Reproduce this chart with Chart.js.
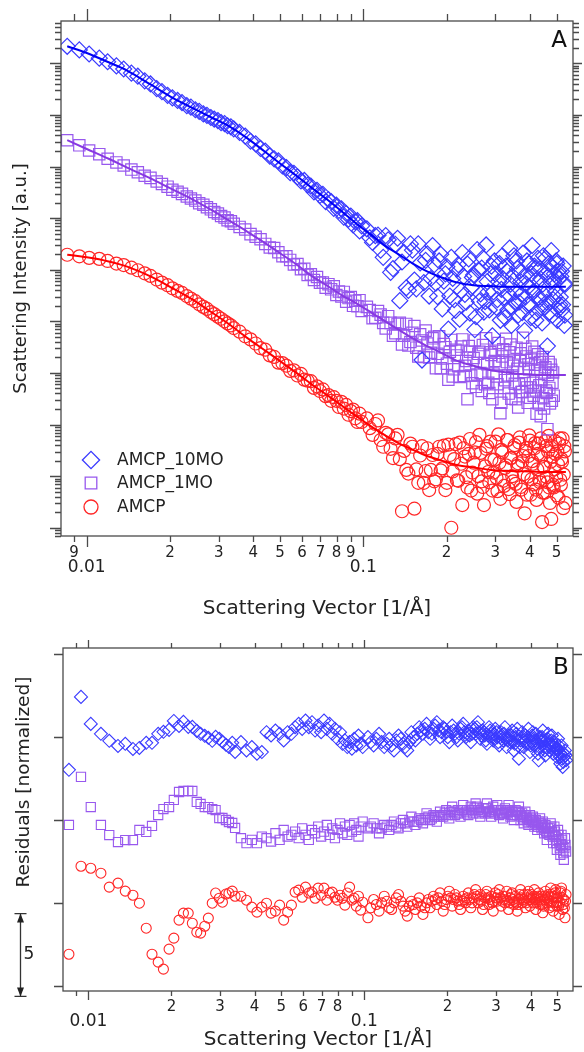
<!DOCTYPE html>
<html>
<head>
<meta charset="utf-8">
<title>AMCP SAXS</title>
<script src="https://cdn.jsdelivr.net/npm/chart.js@4/dist/chart.umd.min.js"></script>
<style>
  html, body { margin: 0; padding: 0; background: #fff; }
  #wrap { position: relative; width: 584px; height: 1052px; }
  #wrap canvas { position: absolute; left: 0; }
  #chartA { top: 0; }
  #chartB { top: 622px; }
</style>
</head>
<body>
<div id="wrap">
  <canvas id="chartA" width="584" height="622"></canvas>
  <canvas id="chartB" width="584" height="430"></canvas>
</div>
<script>
// scattering vector q [1/A], same grid for all series (panel A and B)
var q = [
  0.0085, 0.0094, 0.0102, 0.0111, 0.0119, 0.0128, 0.0136, 0.0145, 0.0153, 0.0162,
  0.0170, 0.0179, 0.0187, 0.0196, 0.0204, 0.0213, 0.0221, 0.0230, 0.0238, 0.0247,
  0.0255, 0.0264, 0.0272, 0.0281, 0.0289, 0.0298, 0.0306, 0.0315, 0.0323, 0.0332,
  0.0340,
  0.0357, 0.0374, 0.0391, 0.0408, 0.0425, 0.0442, 0.0459, 0.0476, 0.0493, 0.0510,
  0.0527, 0.0544, 0.0561, 0.0578, 0.0595, 0.0612, 0.0629, 0.0646, 0.0663, 0.0680,
  0.0697, 0.0714, 0.0731, 0.0748, 0.0765, 0.0782, 0.0799, 0.0816, 0.0833, 0.0850,
  0.0867, 0.0884, 0.0901, 0.0918, 0.0935, 0.0952, 0.0969, 0.0986,
  0.1030, 0.1055, 0.1080, 0.1105, 0.1130, 0.1155, 0.1180, 0.1205, 0.1230, 0.1255,
  0.1280, 0.1305, 0.1330, 0.1355, 0.1380, 0.1405, 0.1430, 0.1455, 0.1480, 0.1505,
  0.1530, 0.1555, 0.1580, 0.1605, 0.1630, 0.1655, 0.1680, 0.1705, 0.1730, 0.1755,
  0.1780, 0.1805, 0.1830, 0.1855, 0.1880, 0.1905, 0.1930, 0.1955, 0.1980, 0.2005,
  0.2030, 0.2055, 0.2080, 0.2105, 0.2130, 0.2155, 0.2180, 0.2205, 0.2230, 0.2255,
  0.2280, 0.2305, 0.2330, 0.2355, 0.2380, 0.2405, 0.2430, 0.2455, 0.2480, 0.2505,
  0.2530, 0.2555, 0.2580, 0.2605, 0.2630, 0.2655, 0.2680, 0.2705, 0.2730, 0.2755,
  0.2780, 0.2805, 0.2830, 0.2855, 0.2880, 0.2905, 0.2930, 0.2955, 0.2980, 0.3005,
  0.3030, 0.3055, 0.3080, 0.3105, 0.3130, 0.3155, 0.3180, 0.3205, 0.3230, 0.3255,
  0.3280, 0.3305, 0.3330, 0.3355, 0.3380, 0.3405, 0.3430, 0.3455, 0.3480, 0.3505,
  0.3530, 0.3555, 0.3580, 0.3605, 0.3630, 0.3655, 0.3680, 0.3705, 0.3730, 0.3755,
  0.3780, 0.3805, 0.3830, 0.3855, 0.3880, 0.3905, 0.3930, 0.3955, 0.3980, 0.4005,
  0.4030, 0.4055, 0.4080, 0.4105, 0.4130, 0.4155, 0.4180, 0.4205, 0.4230, 0.4255,
  0.4280, 0.4305, 0.4330, 0.4355, 0.4380, 0.4405, 0.4430, 0.4455, 0.4480, 0.4505,
  0.4530, 0.4555, 0.4580, 0.4605, 0.4630, 0.4655, 0.4680, 0.4705, 0.4730, 0.4755,
  0.4780, 0.4805, 0.4830, 0.4855, 0.4880, 0.4905, 0.4930, 0.4955, 0.4980, 0.5005,
  0.5030, 0.5055, 0.5080, 0.5105, 0.5130, 0.5155, 0.5180, 0.5205, 0.5230, 0.5255,
  0.5280, 0.5305, 0.5330, 0.5355, 0.5380
];

// panel A: log10 of scattering intensity [a.u.]
var logI10mo = [
  9.33, 9.26, 9.18, 9.10, 9.03, 8.95, 8.89, 8.81, 8.75, 8.66,
  8.60, 8.51, 8.45, 8.38, 8.33, 8.28, 8.24, 8.18, 8.15, 8.10,
  8.07, 8.02, 7.99, 7.95, 7.92, 7.89, 7.85, 7.83, 7.79, 7.77,
  7.73,
  7.66, 7.59, 7.49, 7.44, 7.35, 7.30, 7.20, 7.15, 7.11, 7.01,
  6.98, 6.88, 6.87, 6.80, 6.72, 6.73, 6.64, 6.62, 6.51, 6.54,
  6.44, 6.46, 6.32, 6.36, 6.32, 6.19, 6.25, 6.15, 6.18, 6.02,
  6.09, 5.98, 6.04, 5.87, 5.93, 5.95, 5.75, 5.85,
  5.79, 5.62, 5.53, 5.66, 5.67, 5.38, 5.24, 5.66, 5.58, 4.95,
  5.02, 5.49, 5.61, 4.40, 5.15, 5.33, 4.65, 4.60, 5.50, 5.38,
  4.80, 4.63, 5.50, 5.13, 3.25, 4.75, 5.18, 5.31, 4.49, 4.83,
  5.47, 5.10, 4.74, 4.48, 5.17, 5.30, 4.24, 4.78, 4.92, 5.06,
  3.85, 4.49, 5.24, 4.83, 4.42, 4.21, 5.01, 5.10, 4.04, 4.59,
  5.33, 4.87, 4.52, 4.37, 5.11, 5.21, 4.16, 4.65, 4.85, 4.90,
  3.84, 4.09, 5.39, 4.99, 4.39, 4.53, 5.03, 5.23, 4.18, 4.38,
  5.48, 4.77, 4.57, 4.22, 4.92, 5.07, 3.72, 4.57, 5.17, 4.92,
  4.27, 4.42, 4.77, 5.12, 4.02, 4.62, 5.27, 4.82, 4.47, 4.07,
  5.07, 4.97, 4.22, 4.52, 5.42, 4.72, 3.92, 4.27, 4.87, 5.27,
  4.37, 4.57, 5.17, 5.02, 4.12, 4.37, 4.97, 4.77, 4.52, 4.17,
  5.32, 4.87, 3.82, 4.47, 4.72, 5.17, 4.32, 4.67, 5.12, 4.32,
  4.07, 4.92, 5.47, 4.57, 4.57, 5.07, 5.02, 4.02, 4.17, 4.82,
  5.22, 4.47, 4.42, 5.02, 4.82, 4.27, 3.97, 4.72, 5.27, 4.52,
  4.27, 5.22, 4.92, 4.37, 3.52, 4.87, 5.12, 4.17, 4.37, 4.77,
  5.37, 5.07, 4.12, 4.42, 4.77, 4.92, 4.47, 4.57, 5.17, 5.12,
  4.02, 4.22, 4.97, 4.82, 4.32, 4.47, 4.87, 4.97, 4.22, 4.32,
  5.07, 4.72, 3.92, 4.12, 4.72
];
var logI1mo = [
  7.51, 7.41, 7.31, 7.24, 7.15, 7.08, 7.02, 6.94, 6.89, 6.82,
  6.78, 6.71, 6.66, 6.61, 6.55, 6.51, 6.47, 6.42, 6.38, 6.34,
  6.29, 6.26, 6.21, 6.17, 6.12, 6.09, 6.04, 6.01, 5.96, 5.94,
  5.89,
  5.83, 5.78, 5.69, 5.64, 5.59, 5.50, 5.43, 5.42, 5.34, 5.26,
  5.26, 5.19, 5.10, 5.11, 5.01, 5.02, 4.90, 4.91, 4.80, 4.86,
  4.75, 4.75, 4.65, 4.72, 4.62, 4.68, 4.51, 4.58, 4.48, 4.57,
  4.38, 4.45, 4.47, 4.30, 4.40, 4.29, 4.41, 4.20,
  4.28, 4.22, 4.06, 4.07, 4.20, 4.13, 3.97, 3.86, 4.10, 3.97,
  3.72, 3.77, 3.95, 3.97, 3.55, 3.72, 3.95, 3.53, 3.60, 3.78,
  3.91, 3.49, 3.32, 3.75, 3.63, 3.31, 3.82, 3.57, 3.30, 3.39,
  3.67, 3.70, 3.09, 3.37, 3.71, 3.09, 3.28, 3.56, 3.50, 3.18,
  2.87, 3.41, 3.64, 2.93, 3.07, 3.45, 3.34, 3.13, 2.92, 3.51,
  3.65, 2.94, 3.14, 3.23, 2.49, 3.52, 3.41, 2.95, 2.80, 3.29,
  3.63, 2.73, 2.97, 3.37, 3.41, 3.00, 2.65, 3.54, 3.19, 2.78,
  3.67, 3.17, 2.81, 2.61, 3.40, 3.35, 2.49, 2.99, 3.23, 3.43,
  2.93, 2.78, 3.58, 3.17, 2.22, 2.42, 3.32, 3.46, 2.71, 2.86,
  3.66, 3.21, 2.95, 2.60, 3.40, 3.55, 2.50, 2.95, 3.14, 3.24,
  2.79, 2.49, 3.49, 3.08, 2.33, 2.78, 3.23, 3.38, 2.63, 2.63,
  3.68, 3.02, 2.87, 3.47, 3.32, 2.72, 2.42, 3.17, 3.07, 2.52,
  2.72, 3.26, 3.51, 2.81, 2.56, 3.41, 3.16, 2.66, 2.21, 3.06,
  3.36, 2.41, 2.76, 3.21, 2.16, 2.86, 3.26, 3.31, 2.51, 2.31,
  3.01, 3.11, 2.66, 2.61, 1.91, 2.96, 3.21, 2.71, 2.41, 3.16,
  3.06, 2.46, 2.81, 3.01, 2.56, null, null, null, null, null,
  null, null, null, null, null, null, null, null, null, null,
  null, null, null, null, null
];
var logIamcp = [
  5.29, 5.26, 5.23, 5.21, 5.17, 5.12, 5.09, 5.04, 4.99, 4.93,
  4.88, 4.81, 4.75, 4.70, 4.64, 4.59, 4.55, 4.49, 4.44, 4.39,
  4.33, 4.28, 4.24, 4.18, 4.14, 4.09, 4.05, 4.00, 3.96, 3.92,
  3.87,
  3.80, 3.71, 3.65, 3.57, 3.48, 3.45, 3.34, 3.31, 3.20, 3.19,
  3.14, 3.04, 3.05, 2.95, 2.98, 2.87, 2.85, 2.84, 2.71, 2.74,
  2.65, 2.68, 2.55, 2.57, 2.46, 2.53, 2.46, 2.34, 2.44, 2.31,
  2.38, 2.19, 2.26, 2.29, 2.12, 2.05, 2.21, 2.05,
  2.12, 1.93, 1.80, 2.01, 2.08, 1.70, 1.57, 1.84, 1.81, 1.53,
  1.35, 1.73, 1.80, 1.33, 0.32, 1.49, 1.12, 1.05, 1.63, 1.57,
  0.37, 1.13, 0.87, 1.40, 1.58, 0.87, 1.10, 1.54, 0.73, 1.12,
  1.41, 0.90, 0.94, 1.43, 1.57, 1.11, 1.15, 1.59, 0.73, 0.87,
  1.61, 1.41, 0.00, 1.09, 1.33, 1.62, 0.92, 0.91, 1.65, 1.24,
  0.44, 1.54, 1.38, 0.98, 0.78, 1.43, 1.72, 0.72, 1.07, 1.26,
  1.46, 1.66, 0.66, 1.00, 1.80, 1.45, 0.90, 0.79, 0.44, 1.19,
  1.53, 1.58, 1.08, 0.88, 1.67, 1.32, 0.72, 1.07, 1.32, 1.67,
  0.97, 0.71, 1.81, 1.26, 0.56, 1.51, 1.46, 0.91, 0.81, 1.16,
  1.21, 1.70, 1.70, 0.75, 0.65, 1.35, 1.35, 1.00, 0.90, 1.55,
  1.60, 0.85, 0.50, 1.20, 1.25, 1.65, 1.75, 0.79, 0.74, 1.29,
  1.39, 1.04, 0.28, 1.49, 1.54, 0.64, 0.99, 1.39, 1.79, 1.69,
  0.64, 0.94, 1.29, 1.24, 0.84, 1.54, 1.64, 0.74, 0.54, 1.13,
  1.43, 1.63, 0.93, 0.88, 1.73, 1.38, 0.11, 0.68, 1.18, 1.18,
  0.68, 1.68, 1.58, 0.98, 0.88, 1.48, 1.78, 0.78, 0.48, 1.28,
  0.17, 1.58, 1.38, 0.83, 0.78, 1.13, 1.68, 1.43, 0.98, 0.63,
  1.48, 1.23, 0.58, 1.63, 1.73, 0.93, 0.83, 1.33, 1.28, 1.73,
  0.38, 1.03, 1.58, 1.48, 0.48
];

// fitted curves, log10 intensity
var qFit = [0.0085, 0.010, 0.012, 0.014, 0.017, 0.020, 0.024, 0.028, 0.033, 0.038,
  0.044, 0.050, 0.057, 0.065, 0.074, 0.084, 0.095, 0.107, 0.12, 0.135,
  0.15, 0.17, 0.19, 0.22, 0.25, 0.29, 0.34, 0.40, 0.47, 0.54];
var fit10mo = [9.33, 9.20, 9.02, 8.86, 8.59, 8.36, 8.14, 7.96, 7.77, 7.55,
  7.29, 7.06, 6.83, 6.59, 6.36, 6.12, 5.88, 5.67, 5.46, 5.29,
  5.13, 4.97, 4.86, 4.75, 4.70, 4.68, 4.67, 4.67, 4.67, 4.67];
var fit1mo = [7.51, 7.34, 7.15, 6.98, 6.77, 6.58, 6.37, 6.17, 5.94, 5.74,
  5.52, 5.32, 5.11, 4.88, 4.69, 4.50, 4.34, 4.17, 4.00, 3.83,
  3.68, 3.52, 3.40, 3.23, 3.14, 3.05, 3.00, 2.97, 2.96, 2.96];
var fitAmcp = [5.29, 5.24, 5.16, 5.06, 4.87, 4.67, 4.43, 4.19, 3.93, 3.68,
  3.44, 3.23, 3.01, 2.78, 2.57, 2.36, 2.15, 1.96, 1.79, 1.63,
  1.52, 1.39, 1.31, 1.21, 1.17, 1.12, 1.10, 1.09, 1.08, 1.08];

// panel B: normalized residuals, each series stacked with its offset
var res10mo = [
  -1.97, 2.43, 0.80, 0.20, -0.22, -0.53, -0.40, -0.71, -0.65, -0.34,
  -0.34, 0.20, 0.32, 0.44, 0.98, 0.68, 0.92, 0.62, 0.62, 0.38,
  0.20, 0.08, -0.04, -0.22, 0.02, -0.10, -0.28, -0.46, -0.59, -0.34,
  -0.89,
  -0.3, -0.8, -0.6, -1.0, -0.9, 0.3, 0.1, 0.4, 0.2, -0.2,
  0.3, 0.2, 0.6, 0.8, 0.5, 1.0, 0.6, 0.9, 0.4, 0.7,
  0.3, 1.0, 0.5, 0.8, 0.2, 0.5, -0.1, 0.3, -0.4, -0.2,
  -0.6, -0.3, -0.7, -0.1, -0.5, 0.1, -0.4, -0.6,
  0.0, -0.3, -0.5, -0.1, 0.2, -0.3, -0.6, -0.4, -0.1, -0.5,
  -0.8, -0.2, 0.1, -0.1, -0.4, -0.6, -0.8, -0.3, 0.3, 0.0,
  -0.2, 0.2, 0.6, 0.4, 0.2, 0.5, 0.8, 0.3, -0.1, 0.2,
  0.5, 0.7, 0.9, 0.4, 0.0, 0.3, 0.6, 0.5, 0.3, 0.0,
  -0.3, 0.3, 0.7, 0.4, 0.2, 0.0, -0.2, 0.2, 0.5, 0.6,
  0.8, 0.3, 0.0, 0.2, 0.4, 0.1, -0.3, 0.2, 0.6, 0.5,
  0.2, 0.6, 0.9, 0.3, -0.1, 0.1, 0.4, 0.3, 0.1, -0.2,
  -0.4, 0.1, 0.6, 0.4, 0.2, 0.0, -0.2, 0.2, 0.5, 0.3,
  0.0, -0.3, -0.5, 0.0, 0.3, 0.1, -0.2, 0.2, 0.6, -0.1,
  -0.6, -0.2, 0.1, -0.1, -0.3, 0.1, 0.4, -0.3, -0.8, -0.4,
  0.0, 0.2, 0.5, -0.5, -1.3, -0.6, -0.2, 0.0, 0.3, -0.2,
  -0.6, -0.3, 0.1, -0.2, -0.4, 0.0, 0.5, -0.4, -0.9, -0.5,
  -0.1, 0.1, 0.3, -0.1, -0.5, -0.2, 0.2, -0.3, -0.7, -1.0,
  -1.4, -0.6, 0.0, -0.2, -0.3, 0.0, 0.4, -0.2, -0.6, -0.8,
  -1.1, -0.6, -0.2, -0.1, 0.2, -0.4, -0.8, -0.6, -0.4, -0.2,
  0.1, -0.5, -1.0, -0.6, -0.3, -0.5, -0.7, -0.9, -1.2, -0.7,
  -0.1, -0.5, -0.9, -1.2, -1.6, -1.0, -0.5, -1.3, -1.8, -1.5,
  -1.2, -1.0, -0.8, -1.1, -1.4
];
var res1mo = [
  -0.30, 2.60, 0.78, -0.30, -0.91, -1.33, -1.21, -1.21, -0.60, -0.72,
  -0.36, 0.30, 0.66, 0.78, 1.21, 1.69, 1.75, 1.75, 1.75, 1.09,
  0.97, 0.78, 0.78, 0.66, 0.60, 0.12, 0.12, 0.00, -0.12, -0.18,
  -0.48,
  -1.1, -1.4, -1.2, -1.4, -1.0, -1.1, -1.3, -0.8, -1.2, -0.6,
  -1.0, -0.9, -0.7, -1.1, -0.5, -0.9, -1.2, -0.6, -0.8, -0.4,
  -1.0, -0.7, -0.3, -0.9, -0.5, -1.1, -0.6, -0.2, -0.8, -0.4,
  -0.9, -0.3, -0.7, -0.2, -0.6, -1.0, -0.4, -0.1,
  -0.5, -0.4, -0.2, -0.5, -0.8, -0.5, -0.3, -0.4, -0.6, -0.3,
  -0.1, -0.4, -0.5, -0.2, 0.0, -0.2, -0.4, -0.1, 0.2, -0.1,
  -0.3, -0.1, 0.1, 0.0, -0.2, 0.1, 0.4, 0.2, 0.0, 0.1,
  0.3, 0.2, -0.1, 0.2, 0.5, 0.3, 0.2, 0.4, 0.6, 0.3,
  0.1, 0.5, 0.8, 0.5, 0.3, 0.4, 0.6, 0.4, 0.2, 0.6,
  0.9, 0.6, 0.5, 0.4, 0.3, 0.6, 0.8, 0.6, 0.4, 0.7,
  1.0, 0.8, 0.6, 0.4, 0.2, 0.5, 0.7, 0.5, 0.4, 0.7,
  1.0, 0.7, 0.5, 0.4, 0.2, 0.5, 0.8, 0.6, 0.4, 0.6,
  0.9, 0.6, 0.3, 0.4, 0.6, 0.4, 0.1, 0.4, 0.7, 0.5,
  0.4, 0.6, 0.9, 0.5, 0.2, 0.3, 0.5, 0.3, 0.0, 0.3,
  0.6, 0.5, 0.3, 0.5, 0.8, 0.4, 0.0, 0.2, 0.4, 0.1,
  -0.2, 0.2, 0.5, 0.3, 0.1, -0.1, -0.3, 0.0, 0.3, 0.1,
  -0.1, 0.0, 0.2, -0.1, -0.4, -0.2, 0.0, -0.3, -0.6, -0.4,
  -0.2, -0.1, 0.1, -0.2, -0.5, -0.3, -0.1, -0.4, -0.8, -0.5,
  -0.3, -0.7, -1.2, -0.8, -0.5, -0.7, -0.9, -0.5, -0.2, -0.4,
  -0.7, -1.0, -1.4, -0.9, -0.4, -0.7, -1.0, -1.4, -1.8, -1.2,
  -0.6, -0.9, -1.3, -1.7, -2.1, -1.5, -0.9, -1.2, -1.6, -2.0,
  -2.4, -1.7, -1.1, -1.5, -1.9
];
var resAmcp = [
  -3.10, 2.21, 2.09, 1.79, 0.95, 1.19, 0.71, 0.46, -0.02, -1.53,
  -3.10, -3.58, -4.00, -2.79, -2.13, -1.04, -0.62, -0.62, -1.23, -1.77,
  -1.83, -1.41, -0.92, -0.02, 0.59, 0.28, 0.04, 0.53, 0.59, 0.71,
  0.40,
  0.40, 0.16, -0.26, -0.56, -0.26, -0.02, -0.62, -0.50, -0.14, -1.04,
  -0.56, -0.14, 0.65, 0.77, 0.34, 0.95, 0.59, 0.65, 0.28, 0.89,
  0.46, 0.89, 0.16, 0.59, 0.65, 0.34, 0.16, 0.46, 0.28, -0.14,
  0.59, 0.95, 0.16, 0.28, -0.20, 0.40, -0.44, 0.04,
  -0.9, -0.3, 0.2, -0.1, -0.5, 0.0, 0.4, 0.1, -0.3, -0.4,
  0.0, 0.3, 0.5, 0.1, -0.2, -0.5, -0.8, -0.2, 0.1, -0.1,
  -0.4, 0.0, 0.3, -0.2, -0.7, -0.3, 0.0, 0.2, -0.3, 0.1,
  0.4, 0.2, -0.1, 0.3, 0.6, 0.1, -0.5, -0.1, 0.2, 0.4,
  0.7, 0.3, -0.2, 0.2, 0.5, 0.3, 0.1, -0.1, -0.4, 0.1,
  0.4, 0.2, 0.0, 0.3, 0.6, 0.2, -0.3, 0.0, 0.3, 0.5,
  0.8, 0.4, 0.0, 0.2, 0.5, 0.1, -0.4, -0.1, 0.3, 0.5,
  0.7, 0.3, -0.1, 0.2, 0.4, 0.0, -0.5, 0.1, 0.6, 0.3,
  0.1, 0.5, 0.8, 0.3, -0.2, 0.1, 0.4, 0.2, 0.0, 0.4,
  0.7, 0.1, -0.4, 0.0, 0.3, 0.5, 0.6, 0.2, -0.1, 0.1,
  0.4, 0.0, -0.5, -0.1, 0.2, 0.5, 0.8, 0.3, 0.0, 0.2,
  0.5, 0.1, -0.3, 0.0, 0.3, 0.5, 0.7, 0.2, -0.2, 0.2,
  0.5, 0.3, 0.0, 0.4, 0.8, 0.2, -0.4, 0.0, 0.3, 0.4,
  0.6, 0.2, -0.1, 0.1, 0.4, -0.1, -0.6, -0.2, 0.2, 0.4,
  0.7, 0.3, 0.0, 0.2, 0.5, 0.1, -0.3, 0.4, 0.9, 0.5,
  0.1, -0.2, -0.5, 0.0, 0.4, 0.6, 0.8, 0.3, -0.2, 0.0,
  0.3, -0.2, -0.7, 0.0, 0.6, 0.7, 0.9, 0.3, -0.4, -0.1,
  0.2, -0.3, -0.9, 0.1, 0.5
];
var resOffsets = [15, 10, 5];
var scaleBar = [-0.65, 4.35];   // 5 units

var seriesNames = ['AMCP_10MO', 'AMCP_1MO', 'AMCP'];

// ticks
var xTicks = [0.009, 0.01, 0.02, 0.03, 0.04, 0.05, 0.06, 0.07, 0.08, 0.09, 0.1, 0.2, 0.3, 0.4, 0.5];
var xMajor = [0.01, 0.1];
var xLabelsA = ['9', '0.01', '2', '3', '4', '5', '6', '7', '8', '9', '0.1', '2', '3', '4', '5'];
var xLabelsB = ['', '0.01', '2', '3', '4', '5', '6', '7', '8', '', '0.1', '2', '3', '4', '5'];
var yDecadesA = [-1, 0, 1, 2, 3, 4, 5, 6, 7, 8, 9];
var yStepsA = [1, 2, 3, 4, 5, 6, 7, 8, 9];
var yTicksB = [0, 5, 10, 15, 20];

var markColors = ['rgb(58, 58, 255)', 'rgb(152, 88, 238)', 'rgb(255, 38, 38)'];
var fitColors = ['rgb(0, 0, 245)', 'rgb(136, 56, 226)', 'rgb(255, 0, 0)'];
var markStyles = ['rectRot', 'rect', 'circle'];

Chart.defaults.font.family = "'DejaVu Sans', sans-serif";
Chart.defaults.color = '#222';

var yTicksA = [];
yDecadesA.forEach(function (n) {
  yStepsA.forEach(function (k) {
    yTicksA.push({ value: k * Math.pow(10, n), major: k === 1 });
  });
});

function toIntensity(v) { return Math.pow(10, v); }

function points(xs, ys, conv) {
  var out = [];
  for (var i = 0; i < xs.length; i++) {
    if (ys[i] === null) continue;
    out.push({ x: xs[i], y: conv(ys[i]) });
  }
  return out;
}

function markerSet(i, data, r, bw) {
  return {
    label: seriesNames[i],
    data: data,
    pointStyle: markStyles[i],
    pointRadius: r,
    pointBorderWidth: bw,
    pointBorderColor: markColors[i],
    pointBackgroundColor: 'rgba(0,0,0,0)',
    borderColor: markColors[i]
  };
}

function fitLine(i, vals) {
  return {
    type: 'line',
    label: seriesNames[i] + ' fit',
    data: points(qFit, vals, toIntensity),
    showLine: true,
    borderColor: fitColors[i],
    borderWidth: 2,
    pointRadius: 0,
    fill: false,
    cubicInterpolationMode: 'monotone'
  };
}

function xAxis(labels, height, min, max, pad, titlePad) {
  return {
    type: 'logarithmic',
    position: 'bottom',
    min: min,
    max: max,
    afterBuildTicks: function (s) {
      s.ticks = xTicks.map(function (v) { return { value: v, major: xMajor.indexOf(v) >= 0 }; });
    },
    afterFit: function (s) { s.height = height; },
    grid: { display: false, drawTicks: false },
    border: { display: false },
    ticks: {
      autoSkip: false,
      maxRotation: 0,
      padding: pad,
      color: '#222',
      font: function (c) {
        return c.tick && c.tick.major ? { size: 17, lineHeight: 0.94 } : { size: 15 };
      },
      callback: function (v, i) {
        return xMajor.indexOf(v) >= 0 ? ['', labels[i]] : labels[i];
      }
    },
    title: {
      display: true,
      text: 'Scattering Vector [1/Å]',
      color: '#222',
      font: { size: 20 },
      padding: { top: 0, bottom: titlePad }
    }
  };
}

function drawMarker(ctx, style, x, y, r) {
  ctx.beginPath();
  if (style === 'rectRot') {
    ctx.moveTo(x - r, y); ctx.lineTo(x, y - r); ctx.lineTo(x + r, y); ctx.lineTo(x, y + r);
    ctx.closePath();
  } else if (style === 'rect') {
    var s = r * Math.SQRT1_2;
    ctx.rect(x - s, y - s, 2 * s, 2 * s);
  } else {
    ctx.arc(x, y, r, 0, Math.PI * 2);
  }
  ctx.stroke();
}

// frame, mirrored tick marks on four sides, panel letter
function axesPlugin(opt) {
  return {
    id: 'axes' + opt.name,
    afterDraw: function (chart) {
      var ctx = chart.ctx, a = chart.chartArea;
      var xs = chart.scales.x, ys = chart.scales.y;
      ctx.save();
      ctx.strokeStyle = '#4a4a4a';
      ctx.lineWidth = 1.3;
      ctx.beginPath();
      xTicks.forEach(function (v) {
        var px = Math.round(xs.getPixelForValue(v)) + 0.5;
        var big = xMajor.indexOf(v) >= 0 ? 0 : 1;
        ctx.moveTo(px, a.bottom); ctx.lineTo(px, a.bottom + opt.bottom[big]);
        ctx.moveTo(px, a.top); ctx.lineTo(px, a.top - opt.top[big]);
      });
      opt.yTicks.forEach(function (t) {
        var py = ys.getPixelForValue(t.value);
        if (py < a.top - 1 || py > a.bottom + 1) return;
        py = Math.round(py) + 0.5;
        var big = t.major ? 0 : 1;
        ctx.moveTo(a.left - opt.left[big], py); ctx.lineTo(a.left, py);
        ctx.moveTo(a.right, py); ctx.lineTo(a.right + opt.right[big], py);
      });
      ctx.stroke();
      ctx.strokeRect(a.left, a.top, a.right - a.left, a.bottom - a.top);

      ctx.fillStyle = '#111';
      ctx.font = '23px "DejaVu Sans"';
      ctx.textAlign = 'center';
      ctx.textBaseline = 'middle';
      ctx.fillText(opt.name, a.right - opt.letterDx, a.top + 20);
      if (opt.extra) opt.extra(ctx, a, xs, ys);
      ctx.restore();
    }
  };
}

// legend inside panel A, lower left
function legendA(ctx, a) {
  var rowsY = [a.bottom - 76, a.bottom - 53, a.bottom - 29];
  var radii = [8.6, 8.2, 7];
  ctx.font = '17px "DejaVu Sans"';
  ctx.textAlign = 'left';
  ctx.textBaseline = 'middle';
  seriesNames.forEach(function (name, i) {
    ctx.strokeStyle = markColors[i];
    ctx.lineWidth = 1.3;
    drawMarker(ctx, markStyles[i], a.left + 30, rowsY[i], radii[i]);
    ctx.fillStyle = '#222';
    ctx.fillText(name, a.left + 56, rowsY[i] + 1);
  });
}

// y title and the 5-unit scale bar of panel B
function extraB(ctx, a, xs, ys) {
  ctx.save();
  ctx.fillStyle = '#222';
  ctx.translate(24, a.top + 134);
  ctx.rotate(-Math.PI / 2);
  ctx.font = '18.5px "DejaVu Sans"';
  ctx.textAlign = 'center';
  ctx.textBaseline = 'middle';
  ctx.fillText('Residuals [normalized]', 0, 0);
  ctx.restore();

  var x = 20.5, yTop = ys.getPixelForValue(scaleBar[1]), yBot = ys.getPixelForValue(scaleBar[0]);
  ctx.strokeStyle = '#333';
  ctx.fillStyle = '#222';
  ctx.lineWidth = 1.3;
  ctx.beginPath();
  ctx.moveTo(x, yTop); ctx.lineTo(x, yBot);
  ctx.moveTo(x - 6, yTop); ctx.lineTo(x + 6, yTop);
  ctx.moveTo(x - 6, yBot); ctx.lineTo(x + 6, yBot);
  ctx.stroke();
  ctx.beginPath();
  ctx.moveTo(x, yTop); ctx.lineTo(x - 3.5, yTop + 9); ctx.lineTo(x + 3.5, yTop + 9); ctx.closePath();
  ctx.moveTo(x, yBot); ctx.lineTo(x - 3.5, yBot - 9); ctx.lineTo(x + 3.5, yBot - 9); ctx.closePath();
  ctx.fill();
  ctx.font = '17px "DejaVu Sans"';
  ctx.textAlign = 'center';
  ctx.textBaseline = 'middle';
  ctx.fillText(String(scaleBar[1] - scaleBar[0]), 29, (yTop + yBot) / 2);
}

// Panel A
var chartA = new Chart(document.getElementById('chartA'), {
  type: 'scatter',
  data: {
    datasets: [
      fitLine(0, fit10mo),
      fitLine(1, fit1mo),
      fitLine(2, fitAmcp),
      markerSet(0, points(q, logI10mo, toIntensity), 8, 1.2),
      markerSet(1, points(q, logI1mo, toIntensity), 8, 1.2),
      markerSet(2, points(q, logIamcp, toIntensity), 6.5, 1.2)
    ]
  },
  options: {
    responsive: false,
    animation: false,
    events: [],
    layout: { padding: { top: 21, right: 11, left: 0, bottom: 0 } },
    plugins: { legend: { display: false }, tooltip: { enabled: false } },
    scales: {
      x: xAxis(xLabelsA, 86, 0.00807, 0.573, 8, 1),
      y: {
        type: 'logarithmic',
        min: Math.pow(10, -0.16),
        max: Math.pow(10, 9.82),
        afterFit: function (s) { s.width = 61; },
        grid: { display: false, drawTicks: false },
        border: { display: false },
        ticks: { display: false },
        title: {
          display: true,
          text: 'Scattering Intensity [a.u.]',
          color: '#222',
          font: { size: 18 },
          padding: { top: 11, bottom: 0 }
        }
      }
    }
  },
  plugins: [axesPlugin({
    name: 'A', yTicks: yTicksA, letterDx: 14,
    left: [11, 6], right: [9, 6], top: [12, 7], bottom: [11, 6],
    extra: function (ctx, a) { legendA(ctx, a); }
  })]
});

// Panel B
function resSet(i, vals, r) {
  return markerSet(i, points(q, vals, function (v) { return v + resOffsets[i]; }), r, 1.1);
}

var chartB = new Chart(document.getElementById('chartB'), {
  type: 'scatter',
  data: {
    datasets: [
      resSet(0, res10mo, 6.5),
      resSet(1, res1mo, 6.5),
      resSet(2, resAmcp, 5)
    ]
  },
  options: {
    responsive: false,
    animation: false,
    events: [],
    layout: { padding: { top: 26, right: 11, left: 0, bottom: 0 } },
    plugins: { legend: { display: false }, tooltip: { enabled: false } },
    scales: {
      x: xAxis(xLabelsB, 61, 0.00809, 0.570, 7, 0),
      y: {
        type: 'linear',
        min: -0.32,
        max: 20.38,
        afterFit: function (s) { s.width = 63; },
        grid: { display: false, drawTicks: false },
        border: { display: false },
        ticks: { display: false }
      }
    }
  },
  plugins: [axesPlugin({
    name: 'B', yTicks: yTicksB.map(function (v) { return { value: v, major: true }; }), letterDx: 12,
    left: [9, 9], right: [9, 9], top: [8, 5], bottom: [9, 5],
    extra: extraB
  })]
});
</script>
</body>
</html>
